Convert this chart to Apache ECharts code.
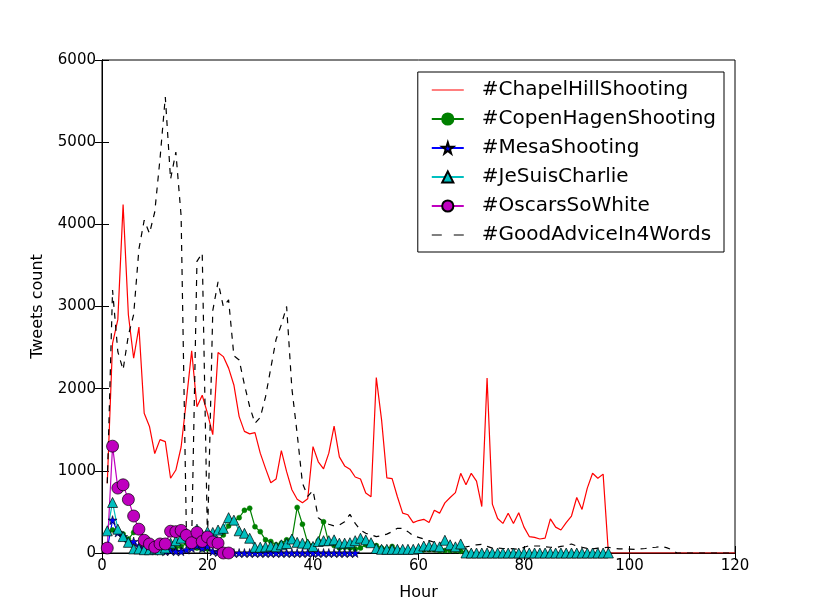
<!DOCTYPE html>
<html>
<head>
<meta charset="utf-8">
<script src="https://cdn.jsdelivr.net/npm/echarts@6/dist/echarts.min.js"></script>
<style>
	html, body { margin: 0; padding: 0; background: #fff; }
	#chart { width: 815px; height: 615px; }
</style>
</head>
<body>
<div id="chart"></div>
<script>
// hourly tweet counts, hour 1..n
const chapelHill = [850, 2550, 2840, 4240, 2900, 2370, 2750, 1700, 1540, 1210,
	1380, 1355, 910, 1010, 1290, 1860, 2460, 1780, 1920, 1700,
	1440, 2440, 2390, 2250, 2045, 1660, 1480, 1450, 1465, 1215,
	1030, 855, 900, 1245, 990, 770, 655, 612, 660, 1295,
	1110, 1025, 1215, 1545, 1170, 1060, 1020, 925, 900, 730,
	685, 2135, 1620, 915, 905, 685, 485, 465, 370, 395,
	410, 370, 520, 485, 610, 675, 735, 970, 830, 970,
	875, 565, 2130, 595, 420, 360, 485, 360, 490, 315,
	200, 190, 170, 180, 415, 315, 280, 370, 450, 675,
	530, 790, 970, 910, 960, 0, 0, 0, 0, 0,
	0, 0, 0, 0, 0, 0, 0, 0, 0, 0,
	0, 0, 0, 0, 0, 0, 0, 0, 0, 0]
const copenhagen = [250, 280, 270, 230, 170, 250, 300, 180, 130, 100,
	90, 60, 50, 60, 80, 120, 80, 60, 50, 50,
	100, 150, 220, 330, 390, 430, 520, 545, 320, 260,
	160, 140, 100, 120, 160, 170, 555, 350, 120, 90,
	150, 380, 120, 90, 60, 70, 60, 50, 60, 100,
	120, 90, 60, 50, 80, 40, 30, 30, 30, 30,
	40, 40, 40, 30, 30, 30, 30, 20, 10]
const mesa = [50, 400, 250, 200, 130, 140, 80, 60, 40, 30,
	30, 20, 30, 20, 20, 40, 60, 90, 60, 80,
	20, 10, 0, 0, 0, 0, 0, 0, 0, 0,
	0, 0, 0, 0, 0, 0, 0, 0, 0, 0,
	0, 0, 0, 0, 0, 0, 0, 0]
const jeSuisCharlie = [270, 615, 290, 200, 130, 50, 50, 40, 40, 50,
	40, 60, 120, 150, 180, 240, 200, 290, 220, 260,
	250, 280, 300, 430, 400, 270, 240, 180, 70, 70,
	75, 85, 75, 100, 115, 170, 130, 120, 110, 80,
	140, 150, 150, 160, 120, 120, 125, 150, 180, 160,
	125, 55, 45, 45, 45, 45, 45, 45, 45, 55,
	85, 85, 85, 75, 155, 100, 75, 110, 0, 0,
	0, 0, 0, 0, 0, 0, 0, 0, 0, 0,
	0, 0, 0, 0, 0, 0, 0, 0, 0, 0,
	0, 0, 0, 0, 0, 0]
const oscars = [60, 1300, 790, 830, 650, 450, 290, 155, 110, 70,
	110, 110, 265, 260, 275, 215, 125, 250, 140, 195,
	135, 120, 0, 0]
const goodAdvice = [850, 3200, 2450, 2230, 2650, 2900, 3700, 4050, 3890, 4150,
	4800, 5550, 4550, 4880, 4100, 250, 150, 3550, 3650, 150,
	2950, 3300, 3000, 3080, 2400, 2350, 2050, 1780, 1580, 1650,
	1900, 2250, 2600, 2780, 3000, 2000, 1450, 850, 690, 760,
	430, 380, 350, 330, 340, 380, 470, 360, 280, 240,
	220, 200, 210, 230, 260, 300, 300, 260, 210, 190,
	170, 150, 130, 120, 110, 95, 80, 70, 75, 85,
	100, 105, 80, 60, 60, 55, 55, 50, 45, 70,
	90, 85, 85, 75, 70, 65, 80, 90, 110, 85,
	70, 55, 50, 60, 65, 70, 55, 50, 50, 48,
	45, 50, 55, 65, 70, 80, 65, 40, 0, 0,
	0, 0, 0, 0, 0, 0, 0, 0, 0, 0]
const xTicks = [0, 20, 40, 60, 80, 100, 120]
const yTicks = [0, 1000, 2000, 3000, 4000, 5000, 6000]

const font = 'DejaVu Sans'
const star = 'path://M50,0 L61,35 L98,35 L68,57 L79,91 L50,70 L21,91 L32,57 L2,35 L39,35 Z'
// legend icons: thin bar (solid / two dashes); tiny corner dots keep the path box at full item size
const solidIcon = 'path://M0,0 L0.05,0 L0.05,0.05 Z M0,6.4 L32,6.4 L32,7.6 L0,7.6 Z M31.95,14 L32,14 L32,13.95 Z'
const dashIcon = 'path://M0,0 L0.05,0 L0.05,0.05 Z M0,6.4 L10,6.4 L10,7.6 L0,7.6 Z M22,6.4 L32,6.4 L32,7.6 L22,7.6 Z M31.95,14 L32,14 L32,13.95 Z'

function toPoints(arr) {
	return arr.map((v, i) => [i + 1, v])
}

const chart = echarts.init(document.getElementById('chart'))

const xBase = {
	type: 'value',
	min: xTicks[0],
	max: xTicks[xTicks.length - 1],
	interval: 20,
	splitLine: { show: false },
	axisLine: { show: true, lineStyle: { color: '#000', width: 1 } },
	axisTick: { show: true, inside: true, length: 7, lineStyle: { color: '#000' } }
}
const yBase = {
	type: 'value',
	min: yTicks[0],
	max: yTicks[yTicks.length - 1],
	interval: 1000,
	splitLine: { show: false },
	axisLine: { show: true, lineStyle: { color: '#000', width: 1 } },
	axisTick: { show: true, inside: true, length: 7, lineStyle: { color: '#000' } }
}

chart.setOption({
	animation: false,
	backgroundColor: '#fff',
	textStyle: { fontFamily: font },
	grid: {
		left: 102,
		right: 80,
		top: 60,
		bottom: 62,
		show: true,
		borderColor: '#000',
		borderWidth: 1
	},
	legend: {
		orient: 'vertical',
		top: 72,
		right: 91,
		padding: [8, 8, 7, 13],
		borderColor: '#000',
		borderWidth: 1,
		backgroundColor: '#fff',
		itemWidth: 32,
		itemHeight: 14,
		itemGap: 9,
		textStyle: {
			color: '#000',
			fontSize: 20,
			lineHeight: 20,
			fontFamily: font,
			padding: [0, 0, 0, 13]
		},
		data: [
			{ name: '#ChapelHillShooting', icon: solidIcon },
			'#CopenHagenShooting',
			'#MesaShooting',
			'#JeSuisCharlie',
			'#OscarsSoWhite',
			{ name: '#GoodAdviceIn4Words', icon: dashIcon }
		]
	},
	xAxis: [
		Object.assign({}, xBase, {
			position: 'bottom',
			name: 'Hour',
			nameLocation: 'middle',
			nameGap: 32,
			nameTextStyle: { color: '#000', fontSize: 16, fontFamily: font },
			axisLabel: { color: '#000', fontSize: 15, margin: 6, fontFamily: font }
		}),
		Object.assign({}, xBase, {
			position: 'top',
			axisLabel: { show: false }
		})
	],
	yAxis: [
		Object.assign({}, yBase, {
			position: 'left',
			name: 'Tweets count',
			nameLocation: 'middle',
			nameGap: 56,
			nameTextStyle: { color: '#000', fontSize: 16, fontFamily: font },
			axisLabel: { color: '#000', fontSize: 15, margin: 6, fontFamily: font, formatter: v => String(v) }
		}),
		Object.assign({}, yBase, {
			position: 'right',
			axisLabel: { show: false }
		})
	],
	series: [
		{
			name: '#ChapelHillShooting',
			type: 'line',
			data: toPoints(chapelHill),
			symbol: 'none',
			lineStyle: { color: '#ff0000', width: 1.2 },
			itemStyle: { color: '#ff0000' }
		},
		{
			name: '#CopenHagenShooting',
			type: 'line',
			data: toPoints(copenhagen),
			symbol: 'circle',
			symbolSize: 5,
			showAllSymbol: true,
			lineStyle: { color: '#008000', width: 1.2 },
			itemStyle: { color: '#008000', borderColor: '#008000', borderWidth: 0.5 }
		},
		{
			name: '#MesaShooting',
			type: 'line',
			data: toPoints(mesa),
			symbol: star,
			symbolSize: 9,
			showAllSymbol: true,
			lineStyle: { color: '#0000ff', width: 1.2 },
			itemStyle: { color: '#0000ff', borderColor: '#000', borderWidth: 0.6 }
		},
		{
			name: '#JeSuisCharlie',
			type: 'line',
			data: toPoints(jeSuisCharlie),
			symbol: 'triangle',
			symbolSize: 10,
			showAllSymbol: true,
			lineStyle: { color: '#00bfbf', width: 1.2 },
			itemStyle: { color: '#00bfbf', borderColor: '#000', borderWidth: 0.7 }
		},
		{
			name: '#OscarsSoWhite',
			type: 'line',
			data: toPoints(oscars),
			symbol: 'circle',
			symbolSize: 12,
			showAllSymbol: true,
			lineStyle: { color: '#bf00bf', width: 1.2 },
			itemStyle: { color: '#bf00bf', borderColor: '#000', borderWidth: 0.7 }
		},
		{
			name: '#GoodAdviceIn4Words',
			type: 'line',
			data: toPoints(goodAdvice),
			symbol: 'none',
			lineStyle: { color: '#000', width: 1.2, type: [6, 6] },
			itemStyle: { color: '#000' }
		}
	]
})
</script>
</body>
</html>
